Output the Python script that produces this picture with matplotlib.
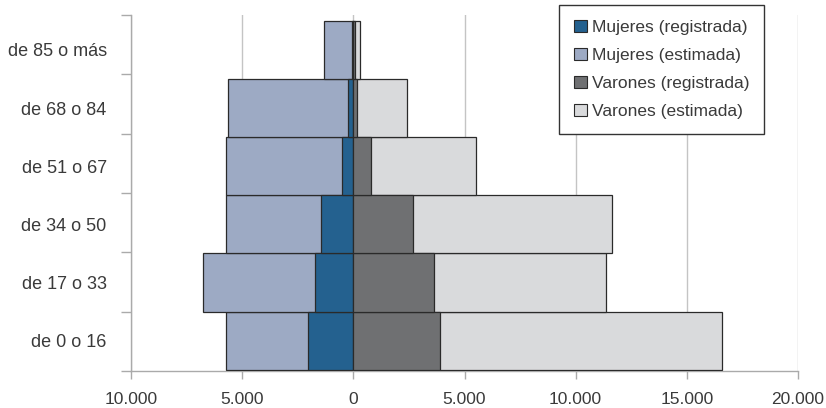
import matplotlib.pyplot as plt
from matplotlib.patches import Patch, Rectangle
from matplotlib.legend_handler import HandlerPatch
from matplotlib.ticker import FixedLocator
import numpy as np

plt.rcParams['font.family'] = ['Liberation Sans', 'DejaVu Sans']

grupos = ['de 0 o 16', 'de 17 o 33', 'de 34 o 50', 'de 51 o 67', 'de 68 o 84', 'de 85 o más']
mujeres_registrada = [2060, 1720, 1450, 525, 250, 60]
mujeres_estimada = [5710, 6770, 5710, 5740, 5640, 1340]
varones_registrada = [3920, 3650, 2690, 810, 180, 60]
varones_estimada = [16600, 11380, 11620, 5510, 2410, 290]

x_ticks = [-10000, -5000, 0, 5000, 10000, 15000, 20000]
x_labels = ['10.000', '5.000', '0', '5.000', '10.000', '15.000', '20.000']

c_muj_reg = '#24618f'
c_muj_est = '#9daac4'
c_var_reg = '#6f7072'
c_var_est = '#d9dadc'
edge = '#2a2a2a'
txt = '#3a3a3a'


class SquareRight(HandlerPatch):
    # square legend key pushed to the right end of the handle box
    def create_artists(self, legend, orig_handle, xdescent, ydescent,
                       width, height, fontsize, trans):
        s = height
        p = Rectangle((-xdescent + width - s, -ydescent), s, s)
        self.update_prop(p, orig_handle, legend)
        p.set_transform(trans)
        return [p]


fig = plt.figure(figsize=(8.26, 4.08), dpi=100)
ax = fig.add_axes([131/826, 1 - 371/408, (798 - 131)/826, (371 - 15)/408])

y = np.arange(len(grupos))
kw = dict(height=1.0, edgecolor=edge, linewidth=0.9, zorder=3)
ax.barh(y, -np.array(mujeres_estimada), color=c_muj_est, **kw)
ax.barh(y, varones_estimada, color=c_var_est, **kw)
ax.barh(y, -np.array(mujeres_registrada), color=c_muj_reg, **kw)
ax.barh(y, varones_registrada, color=c_var_reg, **kw)

y0, y1 = -0.52, 5.6
ax.set_xlim(-10000, 20000)
ax.set_ylim(y0, y1)
ax.set_xticks(x_ticks)
ax.set_xticklabels(x_labels)
ax.set_yticks(y)
ax.set_yticklabels(grupos)
ax.yaxis.set_minor_locator(FixedLocator(np.linspace(y0, y1, len(grupos) + 1)))

ax.tick_params(axis='y', which='major', length=0, pad=17.5, labelsize=13, labelcolor=txt)
ax.tick_params(axis='y', which='minor', length=7, color='#aaaaaa', width=1)
ax.tick_params(axis='x', which='major', length=6, color='#aaaaaa', width=1,
               labelsize=12.5, labelcolor=txt, pad=9)

ax.grid(axis='x', color='#c4c4c4', linewidth=1, zorder=0)
ax.set_axisbelow(True)
for s in ['top', 'right']:
    ax.spines[s].set_visible(False)
for s in ['left', 'bottom']:
    ax.spines[s].set_color('#aaaaaa')
    ax.spines[s].set_linewidth(1)

handles = [
    Patch(facecolor=c_muj_reg, edgecolor=edge, linewidth=0.8, label='Mujeres (registrada)'),
    Patch(facecolor=c_muj_est, edgecolor=edge, linewidth=0.8, label='Mujeres (estimada)'),
    Patch(facecolor=c_var_reg, edgecolor=edge, linewidth=0.8, label='Varones (registrada)'),
    Patch(facecolor=c_var_est, edgecolor=edge, linewidth=0.8, label='Varones (estimada)'),
]
leg = fig.legend(handles=handles, loc='upper right', bbox_to_anchor=(764/826, 1 - 5/408),
                 handler_map={Patch: SquareRight()},
                 fancybox=False, framealpha=1, edgecolor='#333333', fontsize=12.5,
                 handlelength=0.75, handleheight=0.73, handletextpad=0.29,
                 labelspacing=0.73, borderpad=0.85, borderaxespad=0)
leg.get_frame().set_linewidth(1)
for t in leg.get_texts():
    t.set_color(txt)

fig.savefig('out.png', dpi=100)
